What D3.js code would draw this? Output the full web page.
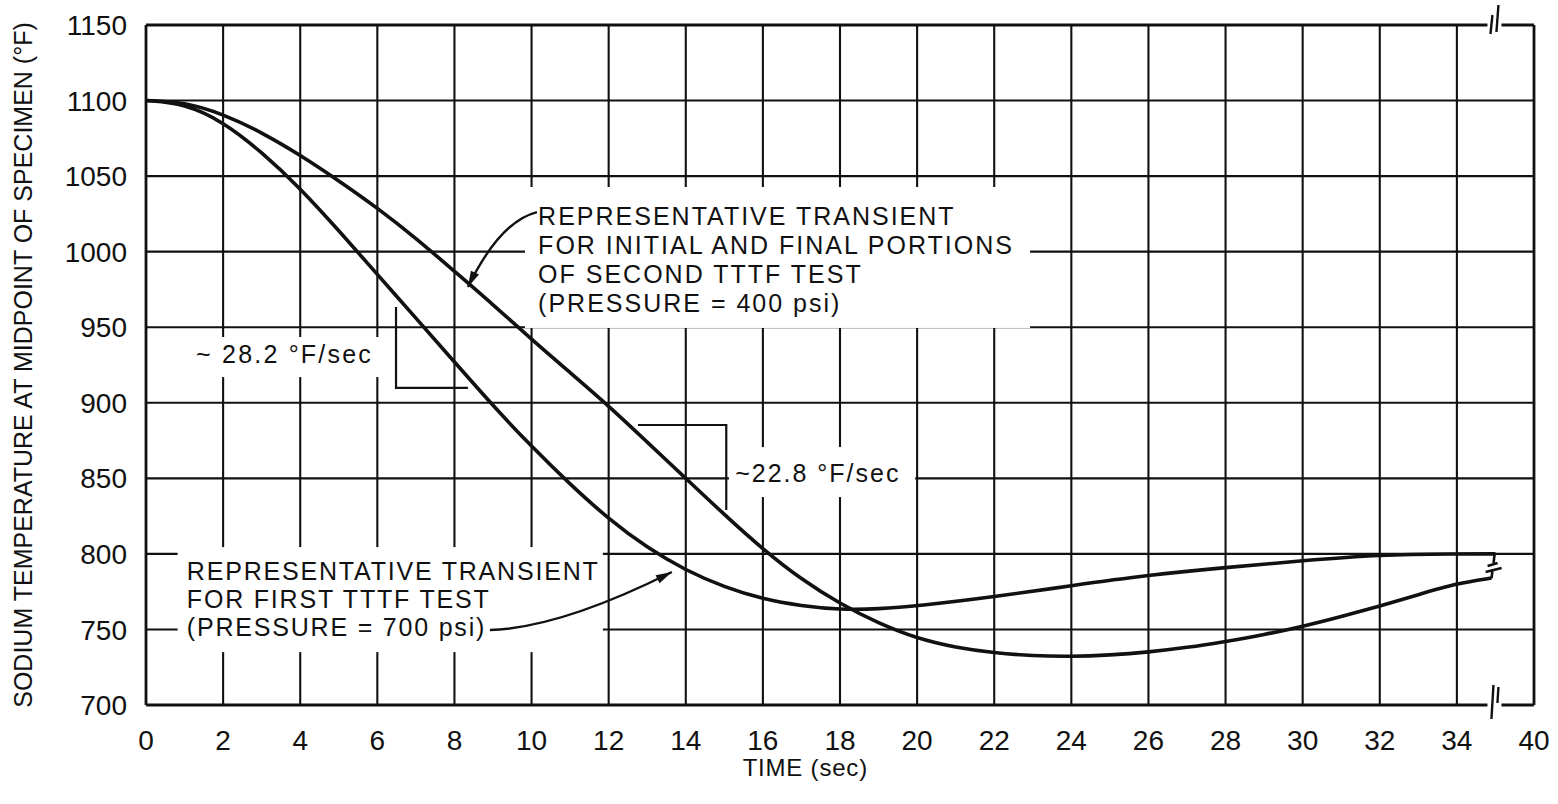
<!DOCTYPE html>
<html>
<head>
<meta charset="utf-8">
<script src="https://cdn.jsdelivr.net/npm/d3@7"></script>
<style>
  html, body { margin: 0; padding: 0; background: #fff; }
  svg { display: block; }
  text { font-family: "Liberation Sans", Arial, sans-serif; fill: #111; }
</style>
</head>
<body>
<svg id="chart" width="1558" height="804"></svg>
<script>
// ---------- DATA ----------
const timeTicks = [0, 2, 4, 6, 8, 10, 12, 14, 16, 18, 20, 22, 24, 26, 28, 30, 32, 34, 36];
const timeTickLabels = ["0", "2", "4", "6", "8", "10", "12", "14", "16", "18", "20", "22", "24", "26", "28", "30", "32", "34", "40"];
const tempTicks = [700, 750, 800, 850, 900, 950, 1000, 1050, 1100, 1150];

// First TTTF test (pressure = 700 psi)
const firstTestTime = [0, 1, 2, 3, 4, 5, 6, 7, 8, 9, 10, 11, 12, 13, 14, 15, 16, 17, 18, 19, 20, 22, 24, 26, 28, 30, 32, 34, 35];
const firstTestTemp = [1100, 1098, 1086, 1066, 1042, 1014, 985, 956, 927, 898, 871, 846, 823, 804, 789, 778, 770, 765.5, 763, 763.5, 765.5, 771.5, 779, 786, 791, 795.5, 799.5, 800, 800];

// Second TTTF test, initial and final portions (pressure = 400 psi)
const secondTestTime = [0, 1, 2, 3, 4, 5, 6, 7, 8, 9, 10, 11, 12, 13, 14, 15, 16, 17, 18, 19, 20, 21, 22, 23, 24, 25, 26, 27, 28, 29, 30, 31, 32, 33, 34, 34.9];
const secondTestTemp = [1100, 1099, 1091, 1079, 1064, 1047, 1029, 1009, 987, 965, 942, 920, 898, 874, 850, 826, 803, 783, 767, 754, 744, 738, 734.5, 732.5, 732, 733, 735, 738, 742, 746.5, 752, 758.5, 765.5, 773, 780.5, 784];

const axisBreakTime = 35;

const labelSecond = ["REPRESENTATIVE TRANSIENT", "FOR INITIAL AND FINAL PORTIONS", "OF SECOND TTTF TEST", "(PRESSURE = 400 psi)"];
const labelFirst = ["REPRESENTATIVE TRANSIENT", "FOR FIRST TTTF TEST", "(PRESSURE = 700 psi)"];
const slopeFirst = "~ 28.2 °F/sec";
const slopeSecond = "~22.8 °F/sec";
const xTitle = "TIME (sec)";
const yTitle = "SODIUM TEMPERATURE AT MIDPOINT OF SPECIMEN (°F)";

// ---------- CHART ----------
const svg = d3.select("#chart");
svg.append("rect").attr("width", 1558).attr("height", 804).attr("fill", "#fff");

const x = d3.scaleLinear().domain([0, 36]).range([146, 1534]);
const y = d3.scaleLinear().domain([700, 1150]).range([705, 25]);

const ink = "#111";
const gridW = 2.1;

// grid
const grid = svg.append("g").attr("stroke", ink).attr("stroke-width", gridW);
grid.selectAll("line.v").data(timeTicks.filter(t => t > 0 && t < 36)).join("line")
  .attr("x1", d => x(d)).attr("x2", d => x(d))
  .attr("y1", y(700)).attr("y2", y(1150));
grid.selectAll("line.h").data(tempTicks.filter(v => v > 700 && v < 1150)).join("line")
  .attr("x1", x(0)).attr("x2", x(36))
  .attr("y1", d => y(d)).attr("y2", d => y(d));

// frame with axis break
const frame = svg.append("g").attr("stroke", ink).attr("stroke-width", 2.8).attr("fill", "none");
const bx = x(axisBreakTime);
frame.append("line").attr("x1", x(0)).attr("x2", x(0)).attr("y1", y(700)).attr("y2", y(1150));
frame.append("line").attr("x1", x(36)).attr("x2", x(36)).attr("y1", y(700)).attr("y2", y(1150));
frame.append("line").attr("x1", x(0)).attr("x2", bx - 8).attr("y1", y(1150)).attr("y2", y(1150));
frame.append("line").attr("x1", bx + 6).attr("x2", x(36)).attr("y1", y(1150)).attr("y2", y(1150));
frame.append("line").attr("x1", x(0)).attr("x2", bx - 8).attr("y1", y(700)).attr("y2", y(700));
frame.append("line").attr("x1", bx + 6).attr("x2", x(36)).attr("y1", y(700)).attr("y2", y(700));
// break marks
const bm = svg.append("g").attr("stroke", ink).attr("stroke-width", 2.4);
bm.append("line").attr("x1", bx - 5).attr("y1", y(1150) + 9).attr("x2", bx - 3).attr("y2", y(1150) - 10);
bm.append("line").attr("x1", bx + 1).attr("y1", y(1150) + 7).attr("x2", bx + 3).attr("y2", y(1150) - 20);
bm.append("line").attr("x1", bx - 4).attr("y1", y(700) + 14).attr("x2", bx - 2).attr("y2", y(700) - 20);
bm.append("line").attr("x1", bx + 2).attr("y1", y(700) - 2).attr("x2", bx + 3).attr("y2", y(700) - 18);

// white label boxes (hide grid behind lettering)
function box(t0, t1, v0, v1) {
  svg.append("rect")
    .attr("x", x(t0)).attr("y", y(v1))
    .attr("width", x(t1) - x(t0)).attr("height", y(v0) - y(v1))
    .attr("fill", "#fff");
}
box(9.83, 22.93, 949.5, 1042.8);
box(15.12, 19.95, 837.6, 870.7);
box(1.14, 6.3, 917, 943.5);
box(0.82, 11.85, 735, 804.5);

// curves
const line = d3.line().x(d => x(d[0])).y(d => y(d[1])).curve(d3.curveBasis);
const firstData = firstTestTime.map((t, i) => [t, firstTestTemp[i]]);
const secondData = secondTestTime.map((t, i) => [t, secondTestTemp[i]]);
svg.append("path").datum(firstData).attr("d", line)
  .attr("fill", "none").attr("stroke", ink).attr("stroke-width", 3.6).attr("stroke-linejoin", "round");
svg.append("path").datum(secondData).attr("d", line)
  .attr("fill", "none").attr("stroke", ink).attr("stroke-width", 3.6).attr("stroke-linejoin", "round");

// curve break symbol at end of second test curve
const endS = secondData[secondData.length - 1];
const ex = x(endS[0]), ey = y(endS[1]);
const brk = svg.append("g").attr("stroke", ink).attr("stroke-width", 2.6).attr("fill", "none");
brk.append("path").attr("d", `M${ex},${ey} L${ex + 1},${ey - 9} M${ex - 6},${ey - 6} L${ex + 10},${ey - 10} M${ex - 4},${ey - 12} L${ex + 6},${ey - 15} M${ex + 2},${ey - 15} L${ex + 3},${y(800)}`);

// slope brackets
const brackets = svg.append("g").attr("stroke", ink).attr("stroke-width", 2.2).attr("fill", "none");
brackets.append("path").attr("d", `M${x(6.485)},${y(963.4)} L${x(6.485)},${y(909.8)} L${x(8.35)},${y(909.8)}`);
brackets.append("path").attr("d", `M${x(12.76)},${y(885.3)} L${x(15.05)},${y(885.3)} L${x(15.05)},${y(829)}`);

// arrows
function arrow(p0, c, p2) {
  const P0 = [x(p0[0]), y(p0[1])], C = [x(c[0]), y(c[1])], P2 = [x(p2[0]), y(p2[1])];
  svg.append("path").attr("d", `M${P0[0]},${P0[1]} Q${C[0]},${C[1]} ${P2[0]},${P2[1]}`)
    .attr("fill", "none").attr("stroke", ink).attr("stroke-width", 2.4);
  const ang = Math.atan2(P2[1] - C[1], P2[0] - C[0]);
  const L = 16, W = 4.5;
  const bxp = P2[0] - L * Math.cos(ang), byp = P2[1] - L * Math.sin(ang);
  const nx = -Math.sin(ang) * W, ny = Math.cos(ang) * W;
  svg.append("path")
    .attr("d", `M${P2[0]},${P2[1]} L${bxp + nx},${byp + ny} L${bxp - nx},${byp - ny} Z`)
    .attr("fill", ink);
}
arrow([10.14, 1026.2], [9.18, 1020], [8.35, 976.6]);
arrow([8.92, 749.6], [10.74, 751], [13.64, 788]);

// annotation text
const ann = svg.append("g").attr("font-size", 25);
labelSecond.forEach((s, i) => {
  ann.append("text").attr("x", x(10.17)).attr("y", y(1017.6) + i * 29)
    .attr("letter-spacing", "2px").text(s);
});
labelFirst.forEach((s, i) => {
  ann.append("text").attr("x", x(1.06)).attr("y", y(782.7) + i * 28)
    .attr("letter-spacing", "1.8px").text(s);
});
ann.append("text").attr("x", x(1.3)).attr("y", y(926.3)).attr("letter-spacing", "2.2px").text(slopeFirst);
ann.append("text").attr("x", x(15.28)).attr("y", y(847.6)).attr("letter-spacing", "2px").text(slopeSecond);

// tick labels
const tl = svg.append("g").attr("font-size", 28);
tl.selectAll("text.x").data(timeTicks).join("text")
  .attr("x", d => x(d)).attr("y", 750).attr("text-anchor", "middle")
  .text((d, i) => timeTickLabels[i]);
tl.selectAll("text.y").data(tempTicks).join("text")
  .attr("x", 127).attr("y", d => y(d)).attr("dy", "0.36em").attr("text-anchor", "end")
  .text(d => d);

// axis titles
svg.append("text").attr("x", x(17.1)).attr("y", 776).attr("text-anchor", "middle")
  .attr("font-size", 24).attr("letter-spacing", "0.8px").text(xTitle);
svg.append("text").attr("transform", "translate(32,365) rotate(-90)").attr("text-anchor", "middle")
  .attr("font-size", 25).text(yTitle);
</script>
</body>
</html>
